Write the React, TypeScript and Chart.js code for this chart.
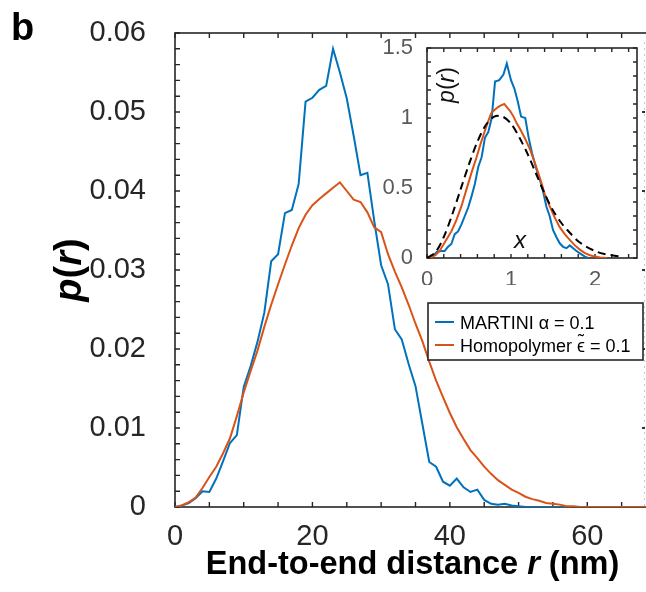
import React, { useEffect, useRef } from "react";
import { Chart, registerables } from "chart.js";

Chart.register(...registerables);

const FONT = "'Liberation Sans', Arial, Helvetica, sans-serif";
const BLUE = "#0072BD";
const ORANGE = "#D95319";
const AXIS = "#262626";

// ---------- main panel data ----------
const martiniR = [
  0, 1, 2, 3, 4, 5, 6, 7, 8, 9, 10, 11, 12, 13, 14, 15, 16, 17, 18, 19, 20, 21, 22, 23, 24, 25, 26, 27, 28, 29,
  30, 31, 32, 33, 34, 35, 36, 37, 38, 39, 40, 41, 42, 43, 44, 45, 46, 47, 48, 49, 50, 51, 52, 53, 54, 55, 56, 57,
];
const martiniP = [
  0, 0.0002, 0.0005, 0.0011, 0.002, 0.0019, 0.0036, 0.0058, 0.0081, 0.0091, 0.0152, 0.0178, 0.0209, 0.0246,
  0.0311, 0.032, 0.0372, 0.0376, 0.0409, 0.0513, 0.0518, 0.0528, 0.0533, 0.058, 0.055, 0.0517, 0.047, 0.042,
  0.0423, 0.0362, 0.0306, 0.0282, 0.0225, 0.0212, 0.0181, 0.0153, 0.0105, 0.0057, 0.0051, 0.0032, 0.0027,
  0.0036, 0.0025, 0.0019, 0.0022, 0.0009, 0.0004, 0.0003, 0.0004, 0.0002, 0.0001, 0, 0, 0, 0, 0, 0, 0,
];
const homoR = [
  0, 1, 2, 3, 4, 5, 6, 7, 8, 9, 10, 11, 12, 13, 14, 15, 16, 17, 18, 19, 20, 21, 22, 23, 24, 25, 26, 27, 28, 29,
  30, 31, 32, 33, 34, 35, 36, 37, 38, 39, 40, 41, 42, 43, 44, 45, 46, 47, 48, 49, 50, 51, 52, 53, 54, 55, 56, 57,
  58, 59, 60, 61, 62, 63, 64, 65, 66, 67, 68, 69, 70,
];
const homoP = [
  0, 0.0002, 0.0006, 0.0012, 0.0024, 0.0038, 0.0051, 0.0068, 0.0087, 0.0115, 0.0145, 0.0172, 0.0198, 0.0228,
  0.0256, 0.0282, 0.0307, 0.0331, 0.0353, 0.037, 0.0382, 0.039, 0.0397, 0.0404, 0.0411, 0.04, 0.0389, 0.0386,
  0.0373, 0.0354, 0.0348, 0.032, 0.0298, 0.0278, 0.0256, 0.0232, 0.021, 0.0184, 0.016, 0.0139, 0.0119, 0.0101,
  0.0086, 0.0072, 0.0062, 0.0051, 0.0042, 0.0034, 0.0028, 0.0022, 0.0018, 0.0013, 0.001, 0.0008, 0.0005,
  0.0004, 0.0003, 0.0001, 0.0001, 0, 0, 0, 0, 0, 0, 0, 0, 0, 0, 0, 0,
];
const xTickValues = [0, 20, 40, 60];
const yTickValues = [0, 0.01, 0.02, 0.03, 0.04, 0.05, 0.06];
const seriesLabels = ["MARTINI \u03B1 = 0.1", "Homopolymer \u03F5\u0303 = 0.1"];

// ---------- inset data ----------
const insetMartiniX = [
  0.02, 0.08, 0.12, 0.17, 0.21, 0.25, 0.29, 0.33, 0.37, 0.41, 0.45, 0.49, 0.53, 0.57, 0.61, 0.65, 0.69, 0.73,
  0.77, 0.81, 0.86, 0.91, 0.95, 1.0, 1.04, 1.08, 1.12, 1.17, 1.21, 1.25, 1.29, 1.33, 1.37, 1.42, 1.46, 1.5,
  1.54, 1.58, 1.62, 1.66, 1.7, 1.74, 1.78, 1.83, 1.88, 1.92,
];
const insetMartiniP = [
  0.0, 0.02, 0.045, 0.05, 0.05, 0.08, 0.1, 0.17, 0.19, 0.24, 0.3, 0.36, 0.44, 0.53, 0.65, 0.72, 0.86, 0.9, 1.0,
  1.26, 1.27, 1.31, 1.39, 1.27, 1.21, 1.12, 1.01, 1.0, 0.86, 0.75, 0.66, 0.58, 0.51, 0.37, 0.3, 0.2, 0.15,
  0.105, 0.08, 0.07, 0.09, 0.07, 0.05, 0.03, 0.01, 0.0,
];
const insetHomoX = [
  0.03, 0.1, 0.15, 0.23, 0.29, 0.35, 0.41, 0.47, 0.53, 0.59, 0.64, 0.69, 0.73, 0.77, 0.81, 0.85, 0.88, 0.92,
  0.96, 0.99, 1.03, 1.07, 1.11, 1.17, 1.23, 1.29, 1.35, 1.4, 1.46, 1.52, 1.58, 1.64, 1.7, 1.76, 1.82, 1.88,
  1.94, 2.0, 2.06, 2.14,
];
const insetHomoP = [
  0.0, 0.02, 0.05, 0.13, 0.19, 0.27, 0.37, 0.49, 0.61, 0.72, 0.82, 0.91, 0.98, 1.04, 1.06, 1.08, 1.09, 1.1,
  1.07, 1.05, 1.01, 0.96, 0.92, 0.85, 0.77, 0.67, 0.56, 0.46, 0.37, 0.29, 0.22, 0.17, 0.13, 0.09, 0.06, 0.035,
  0.02, 0.01, 0.003, 0.0,
];
const insetGaussX = [
  0, 0.1, 0.2, 0.3, 0.4, 0.5, 0.6, 0.7, 0.8, 0.9, 1.0, 1.1, 1.2, 1.3, 1.4, 1.5, 1.6, 1.7, 1.8, 1.9, 2.0, 2.1,
  2.2, 2.3,
];
const insetGaussP = [
  0, 0.04, 0.15, 0.31, 0.49, 0.67, 0.83, 0.95, 1.01, 1.01, 0.96, 0.86, 0.74, 0.6, 0.46, 0.34, 0.25, 0.18, 0.12,
  0.08, 0.05, 0.03, 0.02, 0.01,
];
const insetXTicks = [0, 1, 2];
const insetYTicks = [0, 0.5, 1, 1.5];

// ---------- helpers ----------
const steps = (from: number, to: number, step: number) => {
  const n = Math.round((to - from) / step);
  return Array.from({ length: n + 1 }, (_, i) => from + i * step);
};
const pts = (xs: number[], ys: number[]) => xs.map((x, i) => ({ x, y: ys[i] }));
const fmt = (v: number) => String(Number(Number(v).toFixed(3)));

function drawFrame(chart: any, xMinor: number[], yMinor: number[], len: number) {
  const { ctx, chartArea: a, scales } = chart;
  ctx.save();
  ctx.strokeStyle = AXIS;
  ctx.lineWidth = 1.6;
  ctx.strokeRect(a.left, a.top, a.right - a.left, a.bottom - a.top);
  ctx.lineWidth = 1.4;
  ctx.beginPath();
  xMinor.forEach((v) => {
    const p = scales.x.getPixelForValue(v);
    ctx.moveTo(p, a.bottom);
    ctx.lineTo(p, a.bottom - len);
    ctx.moveTo(p, a.top);
    ctx.lineTo(p, a.top + len);
  });
  yMinor.forEach((v) => {
    const p = scales.y.getPixelForValue(v);
    ctx.moveTo(a.left, p);
    ctx.lineTo(a.left + len, p);
    ctx.moveTo(a.right, p);
    ctx.lineTo(a.right - len, p);
  });
  ctx.stroke();
  ctx.restore();
}

type Seg = { t: string; italic?: boolean };
function drawSegments(ctx: CanvasRenderingContext2D, segs: Seg[], weight: string, size: number, x: number, y: number) {
  const font = (s: Seg) => `${s.italic ? "italic " : ""}${weight} ${size}px ${FONT}`;
  const widths = segs.map((s) => {
    ctx.font = font(s);
    return ctx.measureText(s.t).width;
  });
  const total = widths.reduce((p, c) => p + c, 0);
  let cx = x - total / 2;
  ctx.textAlign = "left";
  ctx.textBaseline = "alphabetic";
  segs.forEach((s, i) => {
    ctx.font = font(s);
    ctx.fillText(s.t, cx, y);
    cx += widths[i];
  });
}

// draws a label, placing a combining tilde (U+0303) as a small tilde above the preceding glyph
function drawLabel(ctx: CanvasRenderingContext2D, label: string, x: number, y: number, size: number) {
  ctx.font = `${size}px ${FONT}`;
  ctx.textAlign = "left";
  ctx.textBaseline = "alphabetic";
  const parts = label.split("\u0303");
  let cx = x;
  parts.forEach((part, i) => {
    ctx.fillText(part, cx, y);
    const w = ctx.measureText(part).width;
    if (i < parts.length - 1) {
      const lastW = ctx.measureText(part.slice(-1)).width;
      const mid = cx + w - lastW / 2;
      ctx.save();
      ctx.textAlign = "center";
      ctx.font = `${size}px ${FONT}`;
      ctx.fillText("\u02DC", mid, y - size * 0.28);
      ctx.restore();
    }
    cx += w;
  });
}

const mainDecor = {
  id: "mainDecor",
  beforeDatasetsDraw(chart: any) {
    drawFrame(chart, steps(0, 70, 5), steps(0, 0.06, 0.002), 5);
  },
  afterDraw(chart: any) {
    const { ctx, chartArea: a, scales } = chart;
    ctx.save();
    // faint neighbouring border at the right edge
    ctx.strokeStyle = "#c8c8c8";
    ctx.lineWidth = 1;
    ctx.setLineDash([2, 4]);
    ctx.beginPath();
    ctx.moveTo(644.5, 42);
    ctx.lineTo(644.5, a.bottom + 2);
    ctx.stroke();
    ctx.setLineDash([]);
    ctx.fillStyle = "#333";
    yTickValues.slice(1, -1).forEach((v) => {
      const p = scales.y.getPixelForValue(v);
      ctx.fillRect(642, p - 1, 3, 2);
    });

    // titles
    ctx.fillStyle = "#000";
    drawSegments(
      ctx,
      [{ t: "End-to-end distance " }, { t: "r", italic: true }, { t: " (nm)" }],
      "bold",
      32.5,
      (a.left + a.right) / 2 - 3,
      574
    );
    ctx.save();
    ctx.translate(81, (a.top + a.bottom) / 2);
    ctx.rotate(-Math.PI / 2);
    drawSegments(ctx, [{ t: "p", italic: true }, { t: "(" }, { t: "r", italic: true }, { t: ")" }], "bold", 38, 0, 0);
    ctx.restore();
    ctx.font = `bold 38px ${FONT}`;
    ctx.textAlign = "left";
    ctx.textBaseline = "alphabetic";
    ctx.fillText("b", 11, 40);

    // legend
    const lx = 428, ly = 303, lw = 215, lh = 57;
    ctx.fillStyle = "#fff";
    ctx.fillRect(lx, ly, lw, lh);
    ctx.strokeStyle = AXIS;
    ctx.lineWidth = 1.6;
    ctx.strokeRect(lx, ly, lw, lh);
    chart.data.datasets.forEach((ds: any, i: number) => {
      const y = ly + 19 + i * 23;
      ctx.strokeStyle = ds.borderColor;
      ctx.lineWidth = 2;
      ctx.beginPath();
      ctx.moveTo(lx + 7, y);
      ctx.lineTo(lx + 26, y);
      ctx.stroke();
      ctx.fillStyle = "#000";
      drawLabel(ctx, ds.label, lx + 32, y + 7, 18);
    });
    ctx.restore();
  },
};

const insetDecor = {
  id: "insetDecor",
  beforeDatasetsDraw(chart: any) {
    const { ctx, chartArea: a } = chart;
    ctx.save();
    ctx.fillStyle = "#fff";
    ctx.fillRect(a.left, a.top, a.right - a.left, a.bottom - a.top);
    ctx.restore();
    drawFrame(chart, steps(0, 2.4, 0.2), steps(0, 1.5, 0.1), 4);
  },
  afterDraw(chart: any) {
    const { ctx, chartArea: a } = chart;
    ctx.save();
    ctx.fillStyle = "#111";
    ctx.translate(a.left + 27, a.top + 37);
    ctx.rotate(-Math.PI / 2);
    drawSegments(ctx, [{ t: "p", italic: true }, { t: "(" }, { t: "r", italic: true }, { t: ")" }], "normal", 23, 0, 0);
    ctx.restore();
    ctx.save();
    ctx.fillStyle = "#111";
    drawSegments(ctx, [{ t: "x", italic: true }], "normal", 24, a.left + 93, a.bottom - 10);
    ctx.restore();
  },
};

export default function App() {
  const mainRef = useRef<HTMLCanvasElement>(null);
  const insetRef = useRef<HTMLCanvasElement>(null);

  useEffect(() => {
    document.body.style.margin = "0";
    const tickFont = { family: FONT, size: 29 };
    const main = new Chart(mainRef.current as HTMLCanvasElement, {
      type: "line",
      data: {
        datasets: [
          {
            label: seriesLabels[0],
            data: pts(martiniR, martiniP),
            borderColor: BLUE,
            borderWidth: 2,
            pointRadius: 0,
            tension: 0,
            fill: false,
            order: 1,
          },
          {
            label: seriesLabels[1],
            data: pts(homoR, homoP),
            borderColor: ORANGE,
            borderWidth: 2,
            pointRadius: 0,
            tension: 0,
            fill: false,
            order: 0,
          },
        ],
      },
      options: {
        responsive: false,
        animation: false,
        events: [],
        layout: { padding: { left: 0, top: 33, right: 44, bottom: 0 } },
        plugins: { legend: { display: false }, tooltip: { enabled: false } },
        scales: {
          x: {
            type: "linear",
            min: 0,
            max: 70,
            grid: { display: false },
            border: { display: false },
            afterBuildTicks: (s: any) => {
              s.ticks = xTickValues.map((v) => ({ value: v }));
            },
            afterFit: (s: any) => {
              s.height = 85;
              s.paddingLeft = 0;
              s.paddingRight = 0;
            },
            ticks: {
              font: tickFont,
              color: AXIS,
              padding: 5,
              maxRotation: 0,
              autoSkip: false,
              callback: (v: any) => fmt(v),
            },
          },
          y: {
            type: "linear",
            min: 0,
            max: 0.06,
            grid: { display: false },
            border: { display: false },
            afterBuildTicks: (s: any) => {
              s.ticks = yTickValues.map((v) => ({ value: v }));
            },
            afterFit: (s: any) => {
              s.width = 175;
              s.paddingTop = 0;
              s.paddingBottom = 0;
            },
            ticks: {
              font: tickFont,
              color: AXIS,
              padding: 21,
              autoSkip: false,
              callback: (v: any) => fmt(v),
            },
          },
        },
      },
      plugins: [mainDecor],
    } as any);

    const insetFont = { family: FONT, size: 22 };
    const inset = new Chart(insetRef.current as HTMLCanvasElement, {
      type: "line",
      data: {
        datasets: [
          {
            label: "MARTINI",
            data: pts(insetMartiniX, insetMartiniP),
            borderColor: BLUE,
            borderWidth: 2,
            pointRadius: 0,
            tension: 0,
            fill: false,
            order: 2,
          },
          {
            label: "Homopolymer",
            data: pts(insetHomoX, insetHomoP),
            borderColor: ORANGE,
            borderWidth: 2,
            pointRadius: 0,
            tension: 0,
            fill: false,
            order: 1,
          },
          {
            label: "Gaussian chain",
            data: pts(insetGaussX, insetGaussP),
            borderColor: "#000",
            borderWidth: 2,
            borderDash: [8, 5],
            pointRadius: 0,
            tension: 0.3,
            fill: false,
            order: 0,
          },
        ],
      },
      options: {
        responsive: false,
        animation: false,
        events: [],
        layout: { padding: { left: 0, top: 13, right: 9, bottom: 0 } },
        plugins: { legend: { display: false }, tooltip: { enabled: false } },
        scales: {
          x: {
            type: "linear",
            min: 0,
            max: 2.5,
            grid: { display: false },
            border: { display: false },
            afterBuildTicks: (s: any) => {
              s.ticks = insetXTicks.map((v) => ({ value: v }));
            },
            afterFit: (s: any) => {
              s.height = 27;
              s.paddingLeft = 0;
              s.paddingRight = 0;
            },
            ticks: {
              font: insetFont,
              color: "#5a5a5a",
              padding: 1,
              maxRotation: 0,
              autoSkip: false,
              callback: (v: any) => fmt(v),
            },
          },
          y: {
            type: "linear",
            min: 0,
            max: 1.5,
            grid: { display: false },
            border: { display: false },
            afterBuildTicks: (s: any) => {
              s.ticks = insetYTicks.map((v) => ({ value: v }));
            },
            afterFit: (s: any) => {
              s.width = 47;
              s.paddingTop = 0;
              s.paddingBottom = 0;
            },
            ticks: {
              font: insetFont,
              color: "#5a5a5a",
              padding: 6,
              autoSkip: false,
              callback: (v: any) => fmt(v),
            },
          },
        },
      },
      plugins: [insetDecor],
    } as any);

    return () => {
      main.destroy();
      inset.destroy();
    };
  }, []);

  return (
    <div style={{ position: "relative", width: 646, height: 592, overflow: "hidden", background: "#fff" }}>
      <canvas ref={mainRef} width={700} height={592} style={{ position: "absolute", left: 0, top: 0 }} />
      <canvas ref={insetRef} width={266} height={250} style={{ position: "absolute", left: 380, top: 35 }} />
    </div>
  );
}
